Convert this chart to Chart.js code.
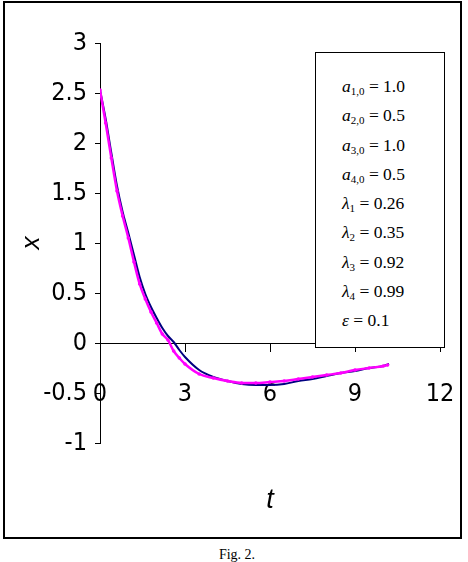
<!DOCTYPE html>
<html>
<head>
<meta charset="utf-8">
<script src="https://cdn.jsdelivr.net/npm/chart.js"></script>
<style>
  body { margin: 0; background: #fff; }
  #wrap { position: relative; width: 468px; height: 562px; }
  #frame { position: absolute; left: 3px; top: 1px; width: 455px; height: 534px; border: 2px solid #000; }
  #chartBox { position: absolute; left: 0; top: 0; width: 468px; height: 540px; }
  #params { position: absolute; left: 315px; top: 52px; width: 128px; height: 294px; border: 1px solid #000;
            background: #fff; font-family: 'Liberation Serif', 'Times New Roman', serif; font-size: 17.5px; }
  #params div { position: absolute; left: 26px; line-height: 20px; white-space: nowrap; }
  #params sub { font-size: 11px; vertical-align: -3px; font-style: normal; }
  #params i { font-style: italic; }
  #caption { position: absolute; left: 0; width: 474px; top: 547px; text-align: center;
             font-family: 'Liberation Serif', 'Times New Roman', serif; font-size: 14px; }
</style>
</head>
<body>
<div id="wrap">
  <div id="frame"></div>
  <div id="chartBox"><canvas id="figChart" width="468" height="540"></canvas></div>
  <div id="params"></div>
  <div id="caption">Fig. 2.</div>
</div>
<script>
const tNavy = [0, 0.2, 0.4, 0.6, 0.8, 1.0, 1.2, 1.4, 1.6, 1.8, 2.0, 2.2, 2.4, 2.6, 2.8, 3.0, 3.5, 4.0, 4.5, 5.0, 5.5, 6.0, 6.5, 7.0, 7.5, 8.0, 8.5, 9.0, 9.5, 10.0, 10.2];
const xNavy = [2.53, 2.24, 1.90, 1.57, 1.31, 1.10, 0.88, 0.66, 0.49, 0.36, 0.25, 0.15, 0.07, 0.01, -0.07, -0.14, -0.27, -0.34, -0.38, -0.41, -0.42, -0.42, -0.41, -0.38, -0.36, -0.33, -0.30, -0.28, -0.25, -0.23, -0.21];

const tMagenta = [0, 0.2, 0.4, 0.6, 0.8, 1.0, 1.2, 1.4, 1.6, 1.8, 2.0, 2.2, 2.4, 2.6, 2.8, 3.0, 3.5, 4.0, 4.5, 5.0, 5.5, 6.0, 6.5, 7.0, 7.5, 8.0, 8.5, 9.0, 9.5, 10.0, 10.15];
const xMagenta = [2.53, 2.20, 1.85, 1.52, 1.27, 1.05, 0.81, 0.59, 0.44, 0.31, 0.20, 0.09, 0.03, -0.08, -0.15, -0.21, -0.31, -0.35, -0.38, -0.40, -0.40, -0.39, -0.38, -0.36, -0.34, -0.32, -0.30, -0.27, -0.25, -0.23, -0.22];

const xTicks = [0, 3, 6, 9, 12];
const xTickLabels = ['0', '3', '6', '9', '12'];
const yTicks = [-1, -0.5, 0, 0.5, 1, 1.5, 2, 2.5, 3];
const yTickLabels = ['-1', '-0.5', '0', '0.5', '1', '1.5', '2', '2.5', '3'];

const paramNames = ['a<sub>1,0</sub>', 'a<sub>2,0</sub>', 'a<sub>3,0</sub>', 'a<sub>4,0</sub>', '&lambda;<sub>1</sub>', '&lambda;<sub>2</sub>', '&lambda;<sub>3</sub>', '&lambda;<sub>4</sub>', '&epsilon;'];
const paramValues = ['1.0', '0.5', '1.0', '0.5', '0.26', '0.35', '0.92', '0.99', '0.1'];

// parameter box
paramNames.forEach((name, i) => {
  const d = document.getElementById('params').appendChild(document.createElement('div'));
  d.style.top = (23 + i * 29.25) + 'px';
  d.innerHTML = '<i>' + name + '</i> = ' + paramValues[i];
});

const tickFont = { family: "'Liberation Sans Narrow', 'DejaVu Sans Condensed', 'Arial Narrow', sans-serif", size: 25 };

new Chart(document.getElementById('figChart'), {
  type: 'scatter',
  data: {
    datasets: [
      {
        label: 'magenta',
        data: tMagenta.map((t, i) => ({ x: t, y: xMagenta[i] })),
        showLine: true,
        cubicInterpolationMode: 'monotone',
        borderColor: '#FF00FF',
        borderWidth: 2.5,
        pointRadius: 1.8,
        pointBackgroundColor: '#FF00FF',
        pointBorderWidth: 0
      },
      {
        label: 'navy',
        data: tNavy.map((t, i) => ({ x: t, y: xNavy[i] })),
        showLine: true,
        cubicInterpolationMode: 'monotone',
        borderColor: '#000080',
        borderWidth: 2,
        pointRadius: 0
      }
    ]
  },
  options: {
    responsive: false,
    animation: { duration: 0 },
    layout: { padding: { left: 4, top: 43, right: 28, bottom: 97 } },
    plugins: { legend: { display: false }, tooltip: { enabled: false } },
    scales: {
      x: {
        type: 'linear',
        min: 0,
        max: 12,
        position: { y: 0 },
        afterBuildTicks: (scale) => { scale.ticks = xTicks.map(v => ({ value: v })); },
        // tick padding pushes labels down only, not sideways
        afterFit: (scale) => { scale.paddingLeft = 0; scale.paddingRight = 14; },
        ticks: { color: '#000', font: tickFont, padding: 28, maxRotation: 0,
                 callback: (v) => xTickLabels[xTicks.indexOf(v)] },
        grid: { drawOnChartArea: false, drawTicks: true, tickLength: 8, color: '#000' },
        border: { color: '#000', width: 1 },
        title: { display: true, text: 't', color: '#000', padding: { top: 47, bottom: 0 },
                 font: { family: "'Liberation Sans Narrow', 'Liberation Sans', sans-serif", size: 27, style: 'italic' } }
      },
      y: {
        min: -1,
        max: 3,
        afterBuildTicks: (scale) => { scale.ticks = yTicks.map(v => ({ value: v })); },
        afterFit: (scale) => { scale.width = 96; },
        ticks: { color: '#000', font: tickFont, padding: 8,
                 callback: (v) => yTickLabels[yTicks.indexOf(v)] },
        grid: { drawOnChartArea: false, drawTicks: true, tickLength: 5, color: '#000' },
        border: { color: '#000', width: 1 },
        title: { display: true, text: 'x', color: '#000', padding: { top: 12, bottom: 0 },
                 font: { family: "'Liberation Sans Narrow', 'Liberation Sans', sans-serif", size: 26, style: 'italic' } }
      }
    }
  }
});
</script>
</body>
</html>
